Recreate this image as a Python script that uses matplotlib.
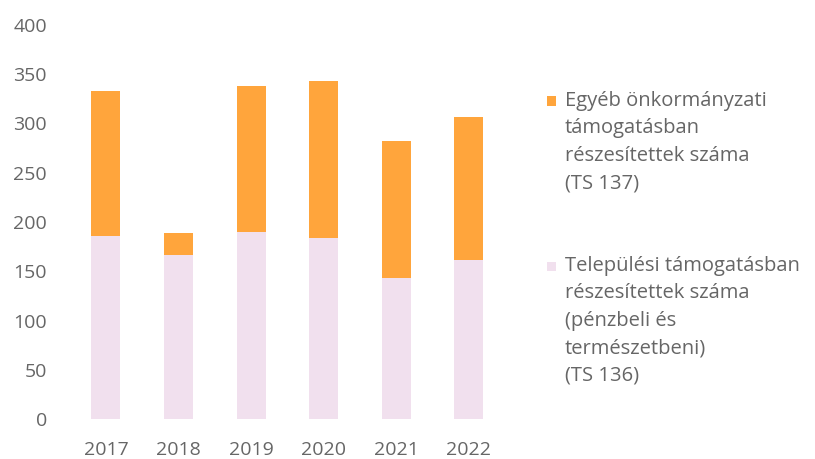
import matplotlib
matplotlib.use("Agg")
import matplotlib.pyplot as plt
from matplotlib.patches import Rectangle

years = ["2017", "2018", "2019", "2020", "2021", "2022"]
telepulesi = [186, 166, 190, 184, 143, 161]
egyeb = [147, 23, 148, 159, 139, 146]
labels_egyeb = ["Egyéb önkormányzati", "támogatásban", "részesítettek száma", "(TS 137)"]
labels_telep = ["Települési támogatásban", "részesítettek száma", "(pénzbeli és", "természetbeni)", "(TS 136)"]
yticks = [0, 50, 100, 150, 200, 250, 300, 350, 400]

c_orange = "#FFA53C"
c_pink = "#F1E0EE"
c_text = "#666666"

plt.rcParams['font.family'] = ['Open Sans', 'DejaVu Sans']

W, H = 815, 459
fig = plt.figure(figsize=(W / 100, H / 100), dpi=100)
ax = fig.add_axes([69.7 / W, (H - 419) / H, 435.3 / W, 394 / H])

x = list(range(len(years)))
ax.bar(x, telepulesi, width=0.4, color=c_pink)
ax.bar(x, egyeb, width=0.4, bottom=telepulesi, color=c_orange)

ax.set_xlim(-0.5, len(years) - 0.5)
ax.set_ylim(0, 400)
ax.set_yticks(yticks)
ax.set_yticklabels([str(v) for v in yticks])
ax.set_xticks(x)
ax.set_xticklabels(years)
for s in ax.spines.values():
    s.set_visible(False)
ax.tick_params(axis='y', length=0, labelsize=14, colors=c_text, pad=16.5)
ax.tick_params(axis='x', length=0, labelsize=14, colors=c_text, pad=16)

def legend_block(lines, color, y0, spacing=27.5):
    x_sq = 547
    fig.patches.append(Rectangle((x_sq / W, (H - y0 - 4.5) / H), 9 / W, 9 / H,
                                 transform=fig.transFigure, facecolor=color,
                                 edgecolor='none'))
    for i, t in enumerate(lines):
        fig.text(565 / W, (H - (y0 + i * spacing)) / H, t, fontsize=14.5,
                 color=c_text, va='center', ha='left')

legend_block(labels_egyeb, c_orange, 101)
legend_block(labels_telep, c_pink, 266)

fig.savefig("out.png", dpi=100)
